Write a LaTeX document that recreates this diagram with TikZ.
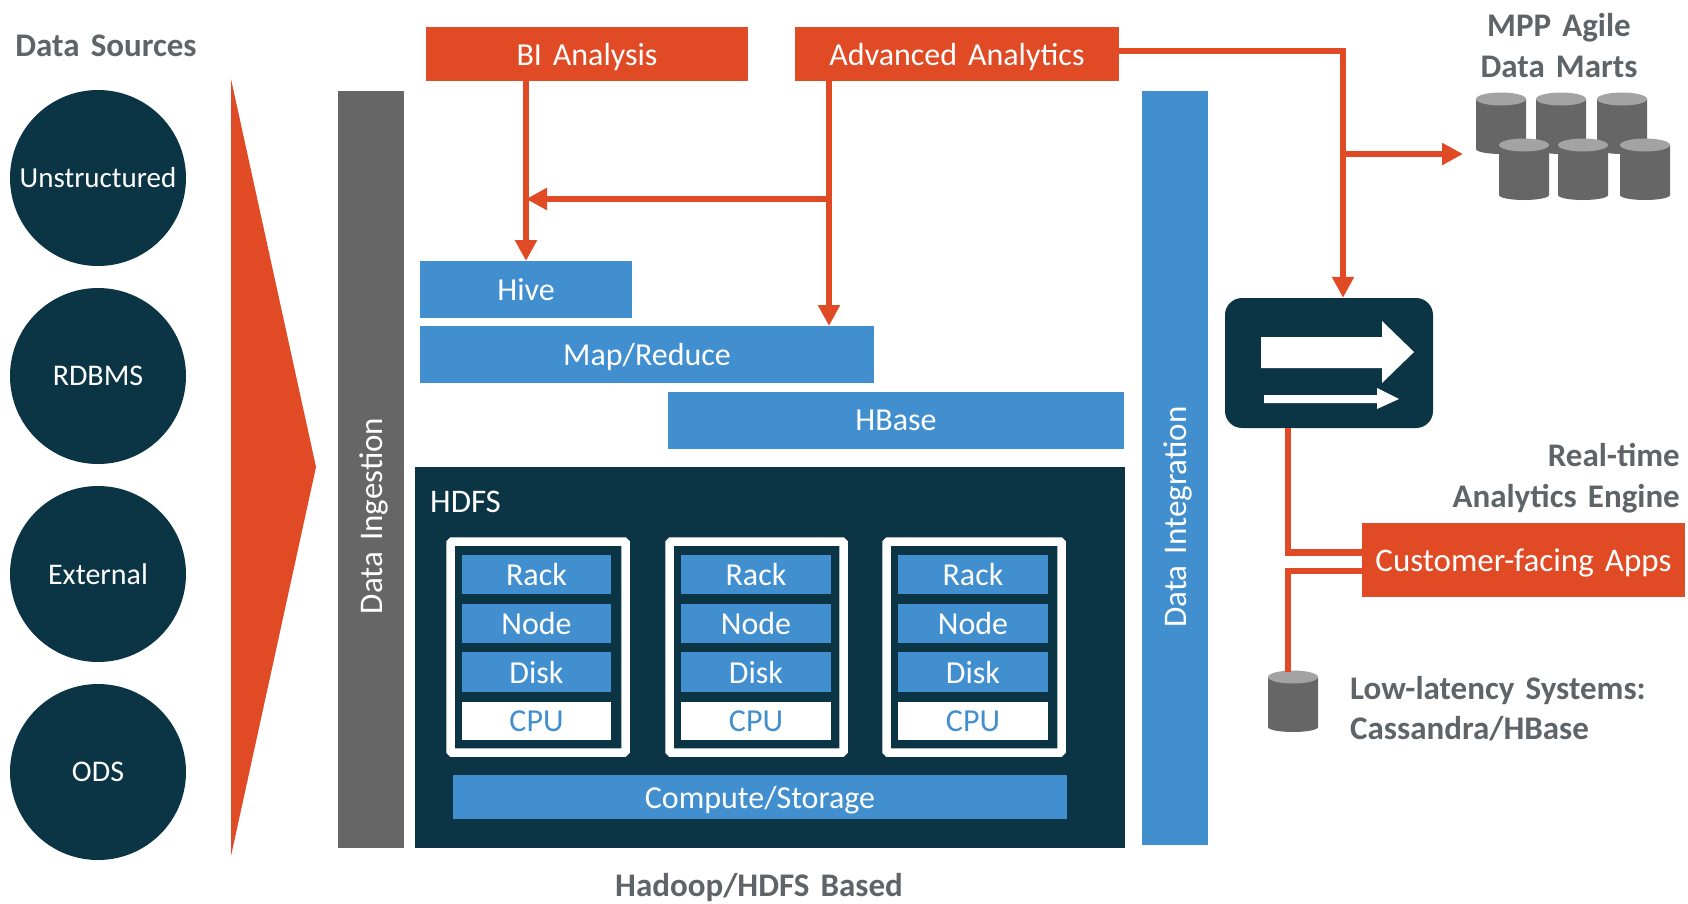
\documentclass[tikz,border=0pt]{standalone}
\usepackage{fontspec}
\setmainfont{Carlito}[WordSpace=1.5]
\usetikzlibrary{arrows.meta,calc}
\definecolor{org}{HTML}{E04A25}
\definecolor{navy}{HTML}{0B3545}
\definecolor{blu}{HTML}{418FCF}
\definecolor{gry}{HTML}{666666}
\definecolor{lgry}{HTML}{A3A3A3}
\definecolor{txtg}{HTML}{5F6468}
\newcommand{\fsz}[1]{\fontsize{#1}{#1}\selectfont}
\newcommand{\bx}[7]{\node[#6,anchor=center,minimum width={(#4-#2)*1pt},minimum height={(#5-#3)*1pt}] (#1) at ({(#2+#4)/2},{(#3+#5)/2}) {#7};}
\newcommand{\cyl}[4]{%
  \fill[gry] (#1,{#3+7}) -- (#1,{#4-5}) arc[start angle=180,end angle=360,x radius={(#2-#1)/2*1pt},y radius=5pt] -- (#2,{#3+7}) -- cycle;
  \fill[lgry] ({(#1+#2)/2},{#3+7}) ellipse[x radius={(#2-#1)/2*1pt},y radius=6.5pt];}
\tikzset{
  basebox/.style={rectangle,inner sep=0pt,outer sep=0pt,text=white,font=\fsz{32},text depth=0pt},
  orgbox/.style={basebox,fill=org},
  blubox/.style={basebox,fill=blu},
  gribox/.style={basebox,fill=gry},
  navbox/.style={basebox,fill=navy},
  whibox/.style={basebox,fill=white,text=blu},
  frm/.style={rectangle,draw=white,line width=8.5pt,rounded corners=1.5pt,inner sep=0pt,outer sep=0pt},
  src/.style={circle,fill=navy,text=white,inner sep=0pt,minimum size=176pt,font=\fsz{30}},
  lbl/.style={text=txtg,inner sep=0pt,font=\fsz{33}\bfseries,text depth=0pt},
  vlbl/.style={text=white,font=\fsz{33},rotate=90,inner sep=0pt,text depth=0pt},
  olink/.style={draw=org,line width=6.5pt},
  oarrow/.style={olink,-{Triangle[length=21pt,width=21pt]}},
}
\begin{document}
\begin{tikzpicture}[x=1pt,y=-1pt]
\useasboundingbox (0,0) rectangle (1688,903);
\fill[white] (0,0) rectangle (1688,903);
% sources
\node[lbl] (dsrc) at (106,46) {Data Sources};
\node[src] (s1) at (98,178) {\fsz{29}Unstructured};
\node[src] (s2) at (98,376) {RDBMS};
\node[src] (s3) at (98,574) {External};
\node[src] (s4) at (98,772) {ODS};
\fill[org] (231,79) -- (316,467) -- (231,856) -- cycle;
% bars
\bx{ing}{338}{91}{404}{848}{gribox}{}
\node[vlbl] (ingt) at (ing.center |- 0,516) {Data Ingestion};
\bx{integ}{1142}{91}{1208}{845}{blubox}{}
\node[vlbl] (integt) at (integ.center |- 0,517) {Data Integration};
% top boxes
\bx{bi}{426}{27}{748}{81}{orgbox}{BI Analysis}
\bx{adv}{795}{27}{1119}{81}{orgbox}{Advanced Analytics}
\bx{hive}{420}{261}{632}{318}{blubox}{Hive}
\bx{mr}{420}{326}{874}{383}{blubox}{Map/Reduce}
\bx{hb}{668}{392}{1124}{449}{blubox}{HBase}
% HDFS
\bx{hdfs}{415}{467}{1125}{848}{navbox}{}
\node[text=white,font=\fsz{33},inner sep=0pt,anchor=west] (hdfst) at (430,502) {HDFS};
\bx{fa}{450.5}{541.5}{625.5}{752.5}{frm}{}
\bx{fb}{669.5}{541.5}{843.5}{752.5}{frm}{}
\bx{fc}{886.5}{541.5}{1061.5}{752.5}{frm}{}
\bx{ra}{462}{555}{611}{594}{blubox}{Rack}
\bx{na}{462}{604}{611}{643}{blubox}{Node}
\bx{da}{462}{652}{611}{692}{blubox}{Disk}
\bx{ca}{462}{702}{611}{740}{whibox}{CPU}
\bx{rb}{681}{555}{831}{594}{blubox}{Rack}
\bx{nb}{681}{604}{831}{643}{blubox}{Node}
\bx{db}{681}{652}{831}{692}{blubox}{Disk}
\bx{cb}{681}{702}{831}{740}{whibox}{CPU}
\bx{rc}{898}{555}{1048}{594}{blubox}{Rack}
\bx{nc}{898}{604}{1048}{643}{blubox}{Node}
\bx{dc}{898}{652}{1048}{692}{blubox}{Disk}
\bx{cc}{898}{702}{1048}{740}{whibox}{CPU}
\bx{cs}{453}{775}{1067}{819}{blubox}{Compute/Storage}
\node[lbl] (hb2) at (759,885) {Hadoop/HDFS Based};
% right
\node[lbl] (mpp) at (1559,25) {MPP Agile};
\node[lbl] (mart) at (1559,67) {Data Marts};
\cyl{1476}{1526}{92}{154}\cyl{1536}{1586}{92}{154}\cyl{1597}{1647}{92}{154}
\cyl{1499}{1549}{138}{200}\cyl{1558}{1608}{138}{200}\cyl{1620}{1670}{138}{200}
\coordinate (mart in) at (1463,154);
\node[fill=navy,rounded corners=17pt,inner sep=0pt,minimum width=208pt,minimum height=130pt] (eng) at (1329,363) {};
\fill[white] (1261,337) -- (1382,337) -- (1382,321) -- (1414,352) -- (1382,383) -- (1382,368) -- (1261,368) -- cycle;
\fill[white] (1264,395) -- (1377,395) -- (1377,388) -- (1399,399) -- (1377,409) -- (1377,403) -- (1264,403) -- cycle;
\node[lbl,anchor=east] (rt) at (1680,455) {Real-time};
\node[lbl,anchor=east] (ae) at (1680,496) {Analytics Engine};
\bx{cust}{1362}{523}{1685}{597}{orgbox}{\fsz{33}Customer-facing Apps}
\cyl{1268}{1318}{670}{732}
\coordinate (lowcyl) at (1288,672);
\node[lbl,anchor=west] (ll) at (1350,688) {Low-latency Systems:};
\node[lbl,anchor=west] (cb2) at (1350,728) {Cassandra/HBase};
% connectors
\coordinate (j1) at (829,199);
\coordinate (j2) at (1343,51);
\coordinate (j3) at (1343,154);
\draw[oarrow] (bi.south -| hive.north) -- (hive.north);
\draw[olink] (adv.south -| j1) -- (j1);
\draw[oarrow] (j1) -- (mr.north -| j1);
\draw[oarrow] (j1) -- (hive.north |- j1);
\draw[olink,line join=miter] (adv.east |- j2) -- (j2) -- (j3);
\draw[oarrow] (j3) -- (eng.north -| j3);
\draw[oarrow] (j3) -- (mart in);
\draw[olink] (eng.south -| lowcyl) |- (cust.west |- 0,552.5);
\draw[olink] (lowcyl) |- (cust.west |- 0,571);
\end{tikzpicture}
\end{document}
